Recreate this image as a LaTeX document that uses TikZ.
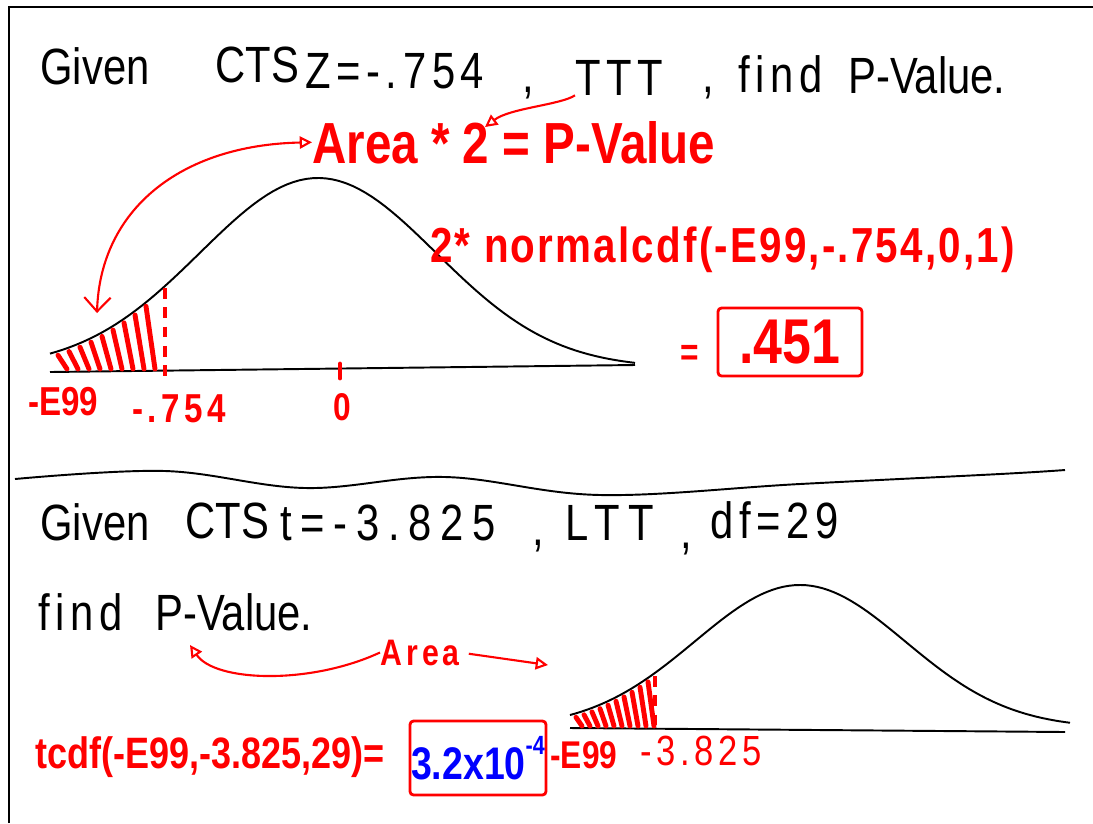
\documentclass[tikz,border=0pt]{standalone}
\usepackage{fontspec}
\setmainfont{Liberation Sans}
\newfontfamily\hand[FakeStretch=0.82]{Liberation Sans}
\newfontfamily\handw[FakeStretch=0.82, LetterSpace=11]{Liberation Sans}
\newfontfamily\handn[FakeStretch=0.82, LetterSpace=4.5]{Liberation Sans}
\usetikzlibrary{arrows.meta}

\begin{document}
\begin{tikzpicture}[x=0.02cm, y=-0.02cm,
  ink/.style={font=\handw\fontsize{29}{32}\selectfont, anchor=base west, inner sep=0pt},
  inktight/.style={font=\hand\fontsize{29}{32}\selectfont, anchor=base west, inner sep=0pt},
  redink/.style={font=\hand\bfseries\fontsize{#1}{#1}\selectfont, text=red, anchor=base west, inner sep=0pt},
  redwide/.style={font=\handw\bfseries\fontsize{#1}{#1}\selectfont, text=red, anchor=base west, inner sep=0pt},
  thinred/.style={font=\handw\fontsize{#1}{#1}\selectfont, text=red, anchor=base west, inner sep=0pt},
  bell/.style={line width=1.1pt},
  hatch/.style={red, line width=2.8pt, line cap=round},
  cutline/.style={red, line width=2.6pt, dash pattern=on 6pt off 5pt},
  pen/.style={red, line width=1.2pt},
  ansbox/.style={draw=red, line width=1.6pt, rounded corners=2pt, inner sep=0pt},
  declare function={bellA(\t)=368-190*exp(-0.5*((\t-318)/118)^2);
                    bellB(\t)=728-143*exp(-0.5*((\t-800)/105)^2);}
]
\useasboundingbox (0,0) rectangle (1093,823);

%% -- page frame
\draw[line width=1.5pt] (9,823) -- (9,7) -- (1093,7);

%% -- first question
\node[inktight] (given1) at (40,84) {Given};
\node[inktight] (cts1) at (215,82) {CTS};
\node[ink] (zval) at (305,88) {Z=-.754};
\node[ink] (comma1) at (522,92) {,};
\node[ink] (ttt) at (575,95) {TTT};
\node[ink] (comma2) at (702,92) {,};
\node[ink] (find1) at (738,92) {find};
\node[inktight] (pval1) at (848,93) {P-Value.};

\node[redink=33] (area1) at (312,163) {Area * 2 = P-Value};
\coordinate (tttTip) at (485,127);
\draw[pen, -{Triangle[open, length=7pt, width=7pt]}] (ttt.south west) .. controls (560,105) and (510,108) .. (tttTip);

%% -- first curve, shaded left tail
\draw[bell] plot[domain=50:635, samples=90] (\x, {bellA(\x)});
\draw[bell] (50,372) -- (635,365);
\foreach \x in {58,69,...,155}
  \draw[hatch] (\x, {bellA(\x)+4}) -- (\x+9, 369);
\draw[cutline] (165,288) -- (165,376);
\draw[hatch] (340,364) -- (340,378);

\coordinate (tail1) at (97,313);
\draw[pen, {Straight Barb[length=8pt, width=15pt]}-{Triangle[open, length=7pt, width=7pt]}]
  (tail1) .. controls (100,210) and (180,145) .. (area1.west);

\node[redink=23] (lo1) at (28,415) {-E99};
\node[redwide=23] (cut1) at (132,422) {-.754};
\node[redink=22] (zero1) at (333,420) {0};

\node[font=\handn\bfseries\fontsize{28}{28}\selectfont, text=red, anchor=base west, inner sep=0pt]
  (ncdf) at (430,262) {2* normalcdf(-E99,-.754,0,1)};
\node[redink=22] (eq1) at (680,365) {=};
\node[ansbox, font=\hand\bfseries\fontsize{36}{36}\selectfont, text=red,
      minimum width=2.88cm, minimum height=1.36cm] (res1) at (790,342) {.451};

%% -- divider
\draw[line width=1.1pt] plot[smooth, tension=0.6] coordinates
  {(15,479) (165,471) (305,488) (445,477) (600,495) (800,484) (1000,474) (1065,470)};

%% -- second question
\node[inktight] (given2) at (40,540) {Given};
\node[inktight] (cts2) at (185,538) {CTS};
\node[font=\hand\fontsize{29}{32}\selectfont\addfontfeature{LetterSpace=17}, anchor=base west, inner sep=0pt]
  (tval) at (280,540) {t=-3.825};
\node[ink] (comma3) at (532,545) {,};
\node[font=\hand\fontsize{29}{32}\selectfont\addfontfeature{LetterSpace=17}, anchor=base west, inner sep=0pt]
  (ltt) at (565,540) {LTT};
\node[ink] (comma4) at (680,548) {,};
\node[ink] (df) at (710,538) {df=29};
\node[ink] (find2) at (38,630) {find};
\node[inktight] (pval2) at (155,630) {P-Value.};

\node[redwide=21] (area2) at (380,665) {Area};
\coordinate (tipL) at (190,645);
\coordinate (tipR) at (548,665);
\draw[pen, -{Triangle[open, length=7pt, width=7pt]}] (area2.west) .. controls (310,685) and (215,682) .. (tipL);
\draw[pen, shorten <=5pt, -{Triangle[open, length=7pt, width=7pt]}] (area2.east) -- (tipR);

%% -- second curve, shaded left tail
\draw[bell] plot[domain=570:1070, samples=90] (\x, {bellB(\x)});
\draw[bell] (570,728) -- (1065,732);
\foreach \x in {576,584,...,648}
  \draw[hatch] (\x, {bellB(\x)+4}) -- (\x+6, 726);
\draw[cutline] (655,676) -- (655,728);

\node[redink=25] (tcdf) at (35,768) {tcdf(-E99,-3.825,29)=};
\node[ansbox, font=\hand\bfseries\fontsize{26}{26}\selectfont, text=blue,
      minimum width=2.72cm, minimum height=1.48cm] (res2) at (478,758)
      {3.2x10\raisebox{0.55em}{\fontsize{15}{15}\selectfont -4}};
\node[redink=22] (lo2) at (550,768) {-E99};
\node[thinred=24] (cut2) at (640,765) {-3.825};

\end{tikzpicture}
\end{document}
